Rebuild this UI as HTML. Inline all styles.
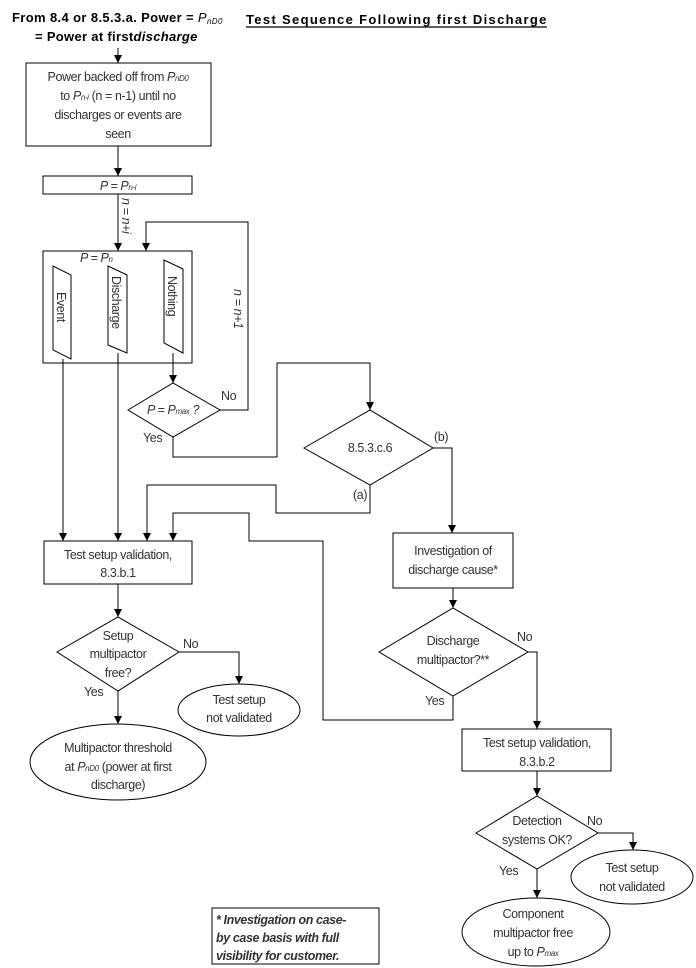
<!DOCTYPE html>
<html><head><meta charset="utf-8"><style>
html,body{margin:0;padding:0;background:#fff}
svg{display:block}
text{font-family:"Liberation Sans",sans-serif;font-size:12.5px;fill:#333;letter-spacing:-0.4px}
.b{font-weight:bold;fill:#000;font-size:13px}
.s{font-size:8px}
</style></head><body>
<svg width="696" height="968" viewBox="0 0 696 968" xmlns="http://www.w3.org/2000/svg">
<defs>
<marker id="ar" viewBox="0 0 10 10" refX="10" refY="5" markerWidth="8" markerHeight="8" orient="auto" markerUnits="userSpaceOnUse"><path d="M0,0 L10,5 L0,10 z" fill="#000"/></marker></defs>
<g fill="none" stroke="#000" stroke-width="1">
<rect x="26" y="63" width="185" height="83"/>
<rect x="43" y="176" width="149" height="18"/>
<rect x="43" y="251" width="149" height="112"/>
<polygon points="53,266 71,275 71,359 53,350"/>
<polygon points="108,266 127,275 127,353 108,345"/>
<polygon points="164,260 183,269 183,353 164,343"/>
<polygon points="128,410 173,383 220,410 173,437"/>
<polygon points="304,448 370,410 433,448 370,485"/>
<rect x="44" y="541" width="148" height="43"/>
<rect x="393" y="533" width="120" height="55"/>
<polygon points="57,652 118,617 179,652 118,691"/>
<polygon points="379,652 453,608 528,652 453,696"/>
<ellipse cx="239" cy="710" rx="61" ry="26"/>
<ellipse cx="118" cy="762" rx="88" ry="38"/>
<rect x="462" y="729" width="149" height="42"/>
<polygon points="476,833 537,796 598,833 537,869"/>
<ellipse cx="632" cy="877" rx="61" ry="27"/>
<ellipse cx="536" cy="932" rx="74" ry="34"/>
<rect x="212" y="908" width="167" height="56"/>
<path d="M118,48 V63" marker-end="url(#ar)"/>
<path d="M118,146 V176" marker-end="url(#ar)"/>
<path d="M118,194 V251" marker-end="url(#ar)"/>
<path d="M220,410 H248 V222 H146 V251" marker-end="url(#ar)"/>
<path d="M173,353 V383" marker-end="url(#ar)"/>
<path d="M173,437 V457 H277 V363 H370 V410" marker-end="url(#ar)"/>
<path d="M433,448 H452 V533" marker-end="url(#ar)"/>
<path d="M370,485 V513 H276 V485 H147 V541" marker-end="url(#ar)"/>
<path d="M63,359 V541" marker-end="url(#ar)"/>
<path d="M118,353 V541" marker-end="url(#ar)"/>
<path d="M453,696 V720 H323 V541 H249 V513 H173 V541" marker-end="url(#ar)"/>
<path d="M453,588 V608" marker-end="url(#ar)"/>
<path d="M118,584 V617" marker-end="url(#ar)"/>
<path d="M179,652 H239 V684" marker-end="url(#ar)"/>
<path d="M118,691 V724" marker-end="url(#ar)"/>
<path d="M528,652 H537 V729" marker-end="url(#ar)"/>
<path d="M537,771 V796" marker-end="url(#ar)"/>
<path d="M598,833 H633 V850" marker-end="url(#ar)"/>
<path d="M537,869 V898" marker-end="url(#ar)"/>
</g>
<text class="b" x="12" y="22" textLength="210" lengthAdjust="spacing">From 8.4 or 8.5.3.a. Power = <tspan font-style="italic" font-weight="normal">P</tspan><tspan class="s" font-style="italic" font-weight="normal" dy="2">nD0</tspan></text>
<text class="b" x="35" y="41" textLength="162" lengthAdjust="spacing">= Power at first<tspan font-style="italic">discharge</tspan></text>
<text class="b" x="246" y="24" font-size="14.5" textLength="300" lengthAdjust="spacing">Test Sequence Following first Discharge</text>
<line x1="246" y1="27" x2="547" y2="27" stroke="#000" stroke-width="1.2"/>
<g text-anchor="middle">
<text x="118" y="81">Power backed off from <tspan font-style="italic">P</tspan><tspan class="s" font-style="italic">nD0</tspan></text>
<text x="118" y="100">to <tspan font-style="italic">P</tspan><tspan class="s" font-style="italic">n-i</tspan> (n = n-1) until no</text>
<text x="118" y="119">discharges or events are</text>
<text x="118" y="138">seen</text>
<text x="118" y="190" font-style="italic">P = P<tspan class="s">n-i</tspan></text>
<text x="173" y="414" font-style="italic">P = P<tspan class="s">max</tspan> ?</text>
<text x="370" y="452">8.5.3.c.6</text>
<text x="118" y="559">Test setup validation,</text>
<text x="118" y="577">8.3.b.1</text>
<text x="453" y="555">Investigation of</text>
<text x="453" y="574">discharge cause*</text>
<text x="118" y="640">Setup</text>
<text x="118" y="658">multipactor</text>
<text x="118" y="677">free?</text>
<text x="453" y="645">Discharge</text>
<text x="453" y="664">multipactor?**</text>
<text x="239" y="704">Test setup</text>
<text x="239" y="722">not validated</text>
<text x="118" y="752">Multipactor threshold</text>
<text x="118" y="771">at <tspan font-style="italic">P</tspan><tspan class="s" font-style="italic">nD0</tspan> (power at first</text>
<text x="118" y="789">discharge)</text>
<text x="537" y="747">Test setup validation,</text>
<text x="537" y="766">8.3.b.2</text>
<text x="537" y="825">Detection</text>
<text x="537" y="844">systems OK?</text>
<text x="632" y="872">Test setup</text>
<text x="632" y="891">not validated</text>
<text x="533" y="918">Component</text>
<text x="533" y="937">multipactor free</text>
<text x="533" y="956">up to <tspan font-style="italic">P</tspan><tspan class="s" font-style="italic">max</tspan></text>
</g>
<text x="80" y="262" font-style="italic">P = P<tspan class="s">n</tspan></text>
<text x="221" y="400">No</text>
<text x="143" y="442">Yes</text>
<text x="434" y="441">(b)</text>
<text x="353" y="499">(a)</text>
<text x="183" y="648">No</text>
<text x="84" y="696">Yes</text>
<text x="517" y="641">No</text>
<text x="425" y="705">Yes</text>
<text x="587" y="825">No</text>
<text x="499" y="875">Yes</text>
<text x="216" y="924" font-weight="bold" font-style="italic" font-size="12">* Investigation on case-</text>
<text x="216" y="942" font-weight="bold" font-style="italic" font-size="12">by case basis with full</text>
<text x="216" y="960" font-weight="bold" font-style="italic" font-size="12">visibility for customer.</text>
<g font-size="13">
<text transform="translate(57,292) rotate(90)">Event</text>
<text transform="translate(112,276) rotate(90)">Discharge</text>
<text transform="translate(168,276) rotate(90)">Nothing</text>
<text transform="translate(122,198) rotate(90)" font-style="italic">n = n+i</text>
<text transform="translate(234,289) rotate(90)" font-style="italic">n = n+1</text>
</g>
</svg>
</body></html>
